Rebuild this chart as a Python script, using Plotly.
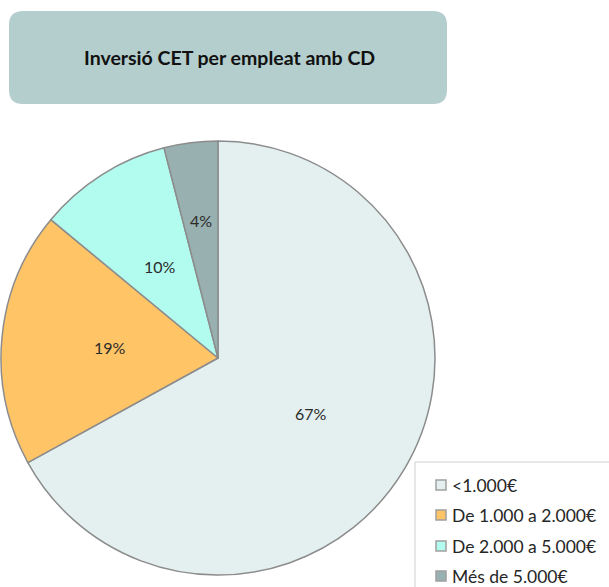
import math
import plotly.graph_objects as go

# Data
categories = ["<1.000€", "De 1.000 a 2.000€", "De 2.000 a 5.000€", "Més de 5.000€"]
shares = [67, 19, 10, 4]
title_text = "Inversió CET per empleat amb CD"

# Styles
slice_colors = ["#e3f0ef", "#ffc466", "#b2fcef", "#98b0b0"]
label_radius = [0.5, 0.5, 0.5, 0.64]
FONT = "Lato"
W, H = 609, 587

# pie geometry in pixels
CX, CY, R = 218, 358, 217


def px_x(x):
    return x / W


def px_y(y):
    return 1 - y / H


fig = go.Figure()
fig.add_trace(go.Pie(
    labels=categories,
    values=shares,
    sort=False,
    direction="clockwise",
    rotation=0,
    textinfo="none",
    marker=dict(colors=slice_colors, line=dict(color="#8c8c8c", width=1.5)),
    domain=dict(x=[px_x(CX - R), px_x(CX + R)], y=[px_y(CY + R), px_y(CY - R)]),
    showlegend=False,
))

annotations = []
shapes = []

# percentage labels placed at each slice's mid-angle
total = sum(shares)
cum = 0
for v, rf in zip(shares, label_radius):
    theta = math.radians((cum + v / 2) / total * 360)
    cum += v
    x = CX + rf * R * math.sin(theta)
    y = CY - rf * R * math.cos(theta)
    annotations.append(dict(
        x=px_x(x), y=px_y(y), xref="paper", yref="paper",
        text=f"{round(v / total * 100)}%", showarrow=False,
        font=dict(family=FONT, size=16, color="#2b2b2b"),
        xanchor="center", yanchor="middle",
    ))

# title box with rounded corners
x0, y0, x1, y1, rr = 9, 11, 447, 104, 14
path = (
    f"M {px_x(x0 + rr)} {px_y(y0)} L {px_x(x1 - rr)} {px_y(y0)} "
    f"Q {px_x(x1)} {px_y(y0)} {px_x(x1)} {px_y(y0 + rr)} "
    f"L {px_x(x1)} {px_y(y1 - rr)} Q {px_x(x1)} {px_y(y1)} {px_x(x1 - rr)} {px_y(y1)} "
    f"L {px_x(x0 + rr)} {px_y(y1)} Q {px_x(x0)} {px_y(y1)} {px_x(x0)} {px_y(y1 - rr)} "
    f"L {px_x(x0)} {px_y(y0 + rr)} Q {px_x(x0)} {px_y(y0)} {px_x(x0 + rr)} {px_y(y0)} Z"
)
shapes.append(dict(type="path", path=path, xref="paper", yref="paper",
                   fillcolor="#b3cecc", line=dict(width=0), layer="below"))
annotations.append(dict(
    x=px_x(229), y=px_y(58), xref="paper", yref="paper",
    text=f"<b>{title_text}</b>", showarrow=False,
    font=dict(family=FONT, size=19.5, color="#111111"),
    xanchor="center", yanchor="middle",
))

# legend box and entries
shapes.append(dict(type="rect", xref="paper", yref="paper",
                   x0=px_x(415), x1=px_x(W + 5), y0=px_y(H + 5), y1=px_y(462),
                   fillcolor="white", line=dict(color="#d0d0d0", width=1)))
row_y = [485, 515, 546, 576]
for name, col, ry in zip(categories, slice_colors, row_y):
    shapes.append(dict(type="rect", xref="paper", yref="paper",
                       x0=px_x(436), x1=px_x(446), y0=px_y(ry + 5), y1=px_y(ry - 5),
                       fillcolor=col, line=dict(color="#a0a0a0", width=1.5)))
    annotations.append(dict(
        x=px_x(450), y=px_y(ry), xref="paper", yref="paper",
        text=name, showarrow=False,
        font=dict(family=FONT, size=17.5, color="#262626"),
        xanchor="left", yanchor="middle",
    ))

fig.update_layout(
    width=W, height=H,
    margin=dict(l=0, r=0, t=0, b=0),
    paper_bgcolor="white",
    plot_bgcolor="white",
    shapes=shapes,
    annotations=annotations,
)

fig.write_html("out.html")
